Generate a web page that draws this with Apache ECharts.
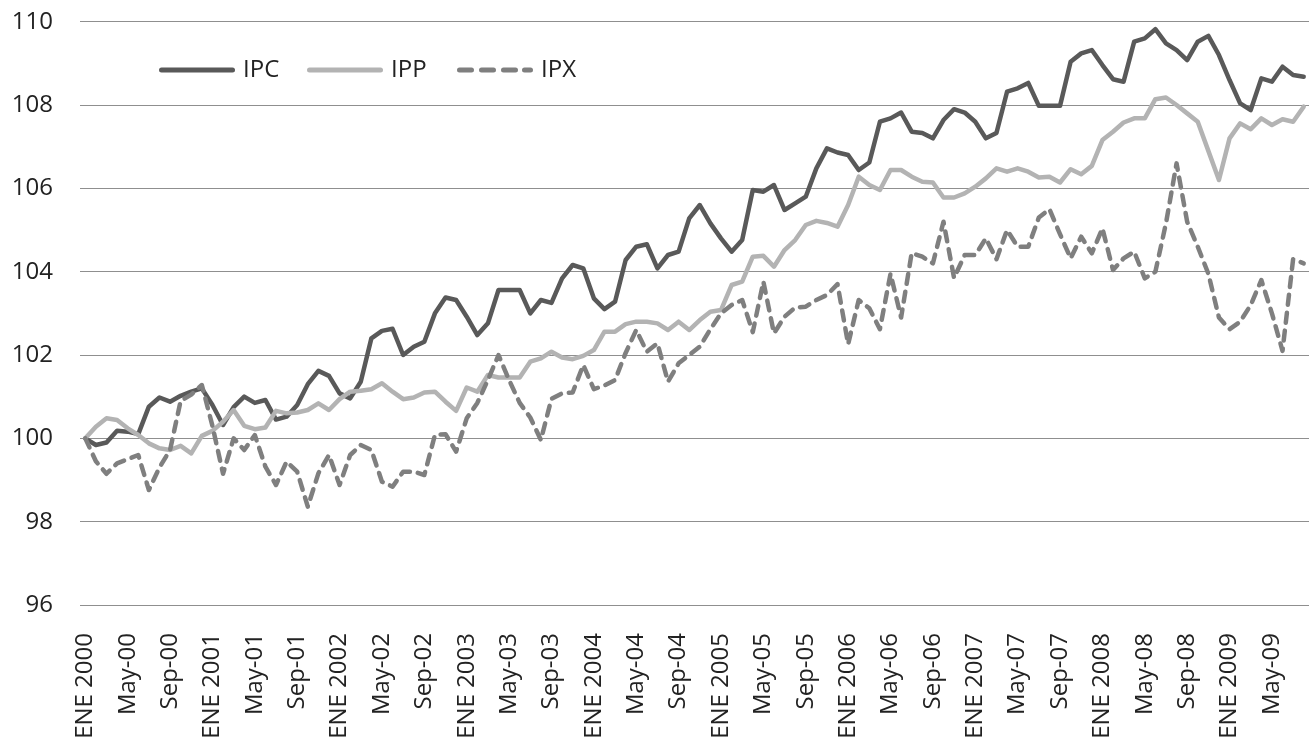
<!DOCTYPE html>
<html>
<head>
<meta charset="utf-8">
<script src="https://cdn.jsdelivr.net/npm/echarts@6/dist/echarts.min.js"></script>
<style>
  html, body { margin: 0; padding: 0; background: #fff; }
  #chart { width: 1312px; height: 751px; }
</style>
</head>
<body>
<div id="chart"></div>
<script>
// eje de meses: ene 2000 .. ago 2009
const years = [2000, 2001, 2002, 2003, 2004, 2005, 2006, 2007, 2008, 2009];
const monthNames = ["Ene", "Feb", "Mar", "Abr", "May", "Jun", "Jul", "Ago", "Sep", "Oct", "Nov", "Dic"];
const monthCount = 116;

const ipc = [
  100.0, 99.84, 99.9, 100.18, 100.16, 100.1, 100.76, 100.98, 100.88, 101.02, 101.12, 101.2,
  100.8, 100.32, 100.75, 101.0, 100.85, 100.92, 100.45, 100.52, 100.8, 101.3, 101.62, 101.5,
  101.08, 100.96, 101.36, 102.4, 102.58, 102.63, 102.0, 102.2, 102.32, 103.0, 103.38, 103.32,
  102.92, 102.48, 102.76, 103.56, 103.56, 103.56, 103.0, 103.32, 103.25, 103.84, 104.16, 104.08,
  103.36, 103.1, 103.28, 104.28, 104.6, 104.66, 104.08, 104.4, 104.48, 105.28, 105.6, 105.16,
  104.8, 104.48, 104.76, 105.96, 105.92, 106.08, 105.48, 105.64, 105.8, 106.48, 106.96, 106.86,
  106.8, 106.44, 106.62, 107.6, 107.68, 107.82, 107.36, 107.33, 107.2, 107.64, 107.9, 107.82,
  107.6, 107.2, 107.33, 108.32, 108.4, 108.53, 107.98, 107.98, 107.98, 109.04, 109.24, 109.32,
  108.96, 108.62, 108.56, 109.52, 109.6, 109.82, 109.48, 109.32, 109.08, 109.52, 109.66, 109.2,
  108.6, 108.04, 107.88, 108.64, 108.56, 108.92, 108.72, 108.68
];

const ipp = [
  100.0, 100.28, 100.48, 100.44, 100.24, 100.08, 99.88, 99.76, 99.72, 99.82, 99.64, 100.06,
  100.18, 100.4, 100.68, 100.3, 100.22, 100.26, 100.66, 100.6, 100.62, 100.68, 100.84, 100.68,
  100.94, 101.12, 101.14, 101.18, 101.32, 101.12, 100.94, 100.98, 101.1, 101.12, 100.88, 100.66,
  101.22, 101.12, 101.52, 101.46, 101.46, 101.46, 101.84, 101.92, 102.08, 101.94, 101.9, 101.98,
  102.12, 102.56, 102.56, 102.74, 102.8, 102.8, 102.76, 102.6, 102.8, 102.6, 102.84, 103.04,
  103.08, 103.68, 103.76, 104.36, 104.38, 104.12, 104.52, 104.76, 105.12, 105.22, 105.17, 105.08,
  105.6, 106.28, 106.08, 105.96, 106.44, 106.44, 106.28, 106.16, 106.14, 105.78, 105.78, 105.88,
  106.04, 106.24, 106.48, 106.4, 106.48, 106.4, 106.26, 106.28, 106.14, 106.46, 106.34, 106.54,
  107.16, 107.36, 107.58, 107.68, 107.68, 108.14, 108.18, 108.0, 107.8, 107.6, 106.9, 106.2,
  107.2, 107.56, 107.42, 107.68, 107.52, 107.66, 107.6, 107.96
];

const ipx = [
  100.0, 99.45, 99.15, 99.4, 99.5, 99.6, 98.76, 99.3, 99.72, 100.9, 101.05, 101.28,
  100.3, 99.15, 100.0, 99.72, 100.08, 99.32, 98.88, 99.44, 99.2, 98.36, 99.16, 99.6,
  98.88, 99.6, 99.84, 99.72, 98.96, 98.84, 99.2, 99.2, 99.12, 100.08, 100.1, 99.68,
  100.48, 100.85, 101.4, 102.0, 101.4, 100.85, 100.5, 99.96, 100.95, 101.08, 101.1, 101.76,
  101.18, 101.27, 101.4, 102.05, 102.6, 102.08, 102.28, 101.36, 101.8, 102.0, 102.2, 102.62,
  103.0, 103.2, 103.32, 102.55, 103.76, 102.52, 102.92, 103.14, 103.16, 103.32, 103.44, 103.7,
  102.26, 103.32, 103.12, 102.62, 103.95, 102.9, 104.45, 104.36, 104.2, 105.2, 103.85, 104.4,
  104.4, 104.8, 104.3, 105.0, 104.6, 104.6, 105.3, 105.5, 104.9, 104.32, 104.84, 104.44,
  105.04, 104.04, 104.32, 104.48, 103.84, 104.0, 105.16, 106.6, 105.2, 104.6, 103.95, 102.9,
  102.62, 102.8, 103.2, 103.8, 103.0, 102.1, 104.3, 104.2
];

const yMin = 96;
const yMax = 110;
const yStep = 2;

// etiquetas: enero como "ENE 2000", el resto "May-00"
const categories = [];
for (let i = 0; i < monthCount; i++) {
  const y = years[Math.floor(i / 12)];
  const m = i % 12;
  categories.push(m === 0 ? `ENE ${y}` : `${monthNames[m]}-${String(y).slice(2)}`);
}

const FONT = "'Open Sans', 'Liberation Sans', sans-serif";

// iconos de leyenda: barra gruesa, y barra a trazos para IPX
const solidIcon = "path://M2.5,0H73.5A2.5,2.5 0 0 1 73.5,5H2.5A2.5,2.5 0 0 1 2.5,0Z";
const dashIcon = "path://M2.5,0H14.5A2.5,2.5 0 0 1 14.5,5H2.5A2.5,2.5 0 0 1 2.5,0Z"
  + "M24.5,0H36.5A2.5,2.5 0 0 1 36.5,5H24.5A2.5,2.5 0 0 1 24.5,0Z"
  + "M46.5,0H58.5A2.5,2.5 0 0 1 58.5,5H46.5A2.5,2.5 0 0 1 46.5,0Z"
  + "M67.5,0H73.5A2.5,2.5 0 0 1 73.5,5H67.5A2.5,2.5 0 0 1 67.5,0Z";

const chart = echarts.init(document.getElementById("chart"), null, { renderer: "canvas" });

function lineSeries(name, data, color, dashed) {
  return {
    name,
    type: "line",
    data,
    symbol: "none",
    smooth: false,
    animation: false,
    lineStyle: {
      color,
      width: 4.5,
      type: dashed ? [10, 8] : "solid",
      cap: "round",
      join: "round",
    },
    itemStyle: { color },
  };
}

function legendAt(name, left, icon) {
  return {
    left,
    top: 53,
    itemWidth: 76,
    itemHeight: 5,
    itemStyle: { borderWidth: 0 },
    textStyle: { fontFamily: FONT, fontSize: 24, color: "#222", padding: [0, 0, 0, 3] },
    data: [{ name, icon }],
  };
}

chart.setOption({
  backgroundColor: "#fff",
  animation: false,
  grid: { left: 80, right: 3, top: 21.7, bottom: 146 },
  legend: [
    legendAt("IPC", 154, solidIcon),
    legendAt("IPP", 302, solidIcon),
    legendAt("IPX", 452, dashIcon),
  ],
  xAxis: {
    type: "category",
    data: categories,
    boundaryGap: true,
    axisLine: { show: false },
    axisTick: { show: false },
    splitLine: { show: false },
    axisLabel: {
      interval: 3,
      rotate: 90,
      margin: 28,
      fontFamily: FONT,
      fontSize: 24,
      color: "#222",
    },
  },
  yAxis: {
    type: "value",
    min: yMin,
    max: yMax,
    interval: yStep,
    axisLine: { show: false },
    axisTick: { show: false },
    axisLabel: {
      margin: 27,
      fontFamily: FONT,
      fontSize: 24,
      color: "#222",
    },
    splitLine: { lineStyle: { color: "#8f8f8f", width: 1.2 } },
  },
  series: [
    lineSeries("IPC", ipc, "#595959", false),
    lineSeries("IPP", ipp, "#b3b3b3", false),
    lineSeries("IPX", ipx, "#7f7f7f", true),
  ],
});
</script>
</body>
</html>
